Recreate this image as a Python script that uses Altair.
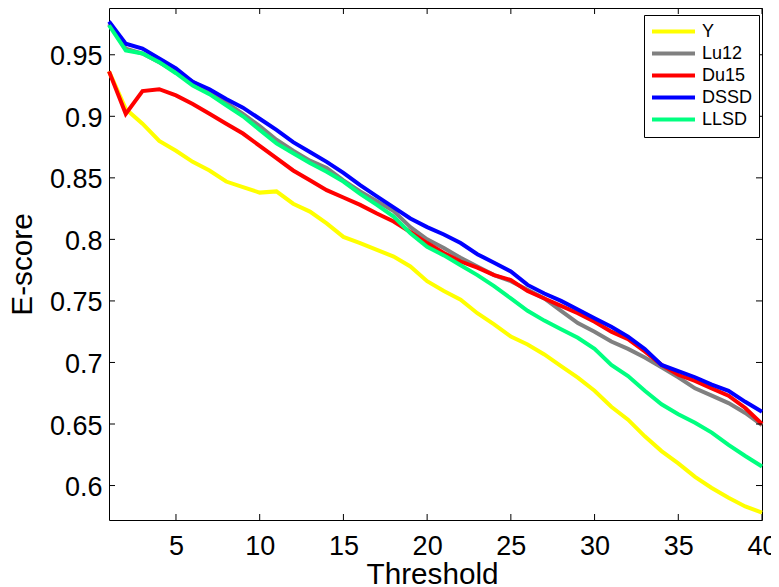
import altair as alt
import pandas as pd

threshold = list(range(1, 41))
series_names = ["Y", "Lu12", "Du15", "DSSD", "LLSD"]
series_colors = ["#FFFF00", "#808080", "#FF0000", "#0000FF", "#00FF80"]

y_vals = [0.9365, 0.906, 0.894, 0.880, 0.872, 0.863, 0.856, 0.847, 0.8425, 0.838,
          0.839, 0.829, 0.8226, 0.813, 0.802, 0.797, 0.7915, 0.786, 0.778, 0.766,
          0.758, 0.751, 0.740, 0.731, 0.721, 0.7146, 0.7065, 0.697, 0.6876, 0.677,
          0.664, 0.6535, 0.640, 0.628, 0.618, 0.607, 0.598, 0.590, 0.583, 0.578]
lu12_vals = [0.975, 0.955, 0.951, 0.944, 0.936, 0.928, 0.920, 0.911, 0.902, 0.892,
             0.881, 0.872, 0.864, 0.858, 0.848, 0.839, 0.831, 0.823, 0.810, 0.800,
             0.793, 0.785, 0.778, 0.771, 0.766, 0.759, 0.752, 0.742, 0.732, 0.725,
             0.717, 0.711, 0.704, 0.696, 0.688, 0.679, 0.673, 0.667, 0.659, 0.649]
du15_vals = [0.9365, 0.902, 0.9205, 0.922, 0.917, 0.910, 0.902, 0.894, 0.886, 0.876,
             0.866, 0.856, 0.848, 0.840, 0.834, 0.828, 0.821, 0.8145, 0.806, 0.797,
             0.789, 0.782, 0.777, 0.771, 0.767, 0.758, 0.752, 0.746, 0.740, 0.733,
             0.725, 0.719, 0.709, 0.698, 0.690, 0.685, 0.679, 0.673, 0.663, 0.650]
dssd_vals = [0.977, 0.959, 0.955, 0.947, 0.939, 0.928, 0.922, 0.914, 0.907, 0.898,
             0.889, 0.879, 0.871, 0.863, 0.854, 0.844, 0.835, 0.826, 0.817, 0.810,
             0.804, 0.797, 0.788, 0.781, 0.774, 0.763, 0.756, 0.750, 0.743, 0.736,
             0.729, 0.721, 0.711, 0.698, 0.693, 0.688, 0.682, 0.677, 0.668, 0.660]
llsd_vals = [0.974, 0.9535, 0.951, 0.944, 0.935, 0.925, 0.918, 0.909, 0.900, 0.889,
             0.878, 0.870, 0.862, 0.855, 0.847, 0.837, 0.828, 0.8185, 0.805, 0.794,
             0.787, 0.779, 0.771, 0.762, 0.752, 0.742, 0.734, 0.727, 0.720, 0.711,
             0.698, 0.689, 0.677, 0.666, 0.658, 0.651, 0.643, 0.633, 0.624, 0.6155]

x_ticks = [5, 10, 15, 20, 25, 30, 35, 40]
y_ticks = [0.6, 0.65, 0.7, 0.75, 0.8, 0.85, 0.9, 0.95]

all_vals = [y_vals, lu12_vals, du15_vals, dssd_vals, llsd_vals]
rows = []
for name, vals in zip(series_names, all_vals):
    for t, v in zip(threshold, vals):
        rows.append({"Threshold": t, "E-score": v, "Series": name})
df = pd.DataFrame(rows)
xt_df = pd.DataFrame({"Threshold": x_ticks})
yt_df = pd.DataFrame({"E-score": y_ticks})

W, H = 653, 512
TL = 6
FONT = "Liberation Sans"

x_scale = alt.Scale(domain=[1, 40], nice=False, zero=False)
y_scale = alt.Scale(domain=[0.572, 0.988], nice=False, zero=False)

x_axis = alt.Axis(
    values=x_ticks, title="Threshold", format="d",
    grid=False, ticks=False, tickSize=0, domain=False,
    labelFont=FONT, labelFontSize=27, labelColor="black", labelPadding=13,
    labelFlush=False, labelOverlap=False,
    titleFont=FONT, titleFontSize=29.7, titleFontWeight="normal", titleColor="black",
    titleBaseline="alphabetic", titleY=63, titleX=323,
)
y_axis = alt.Axis(
    values=y_ticks, title="E-score", format=".2~f",
    grid=False, ticks=False, tickSize=0, domain=False,
    labelFont=FONT, labelFontSize=27, labelColor="black", labelPadding=7,
    labelOffset=2, labelFlush=False, labelOverlap=False,
    titleFont=FONT, titleFontSize=29.7, titleFontWeight="normal", titleColor="black",
    titleBaseline="alphabetic", titleX=-78,
)

legend = alt.Legend(
    title=None, orient="none", legendX=535, legendY=7,
    symbolType="stroke", symbolStrokeWidth=4, symbolSize=1849,
    clipHeight=21.2, rowPadding=0, labelOffset=5,
    labelFont=FONT, labelFontSize=18, labelColor="black",
    padding=6, strokeColor="black", fillColor="white",
)

lines = alt.Chart(df).mark_line(strokeWidth=4).encode(
    x=alt.X("Threshold:Q", scale=x_scale, axis=x_axis),
    y=alt.Y("E-score:Q", scale=y_scale, axis=y_axis),
    color=alt.Color("Series:N", scale=alt.Scale(domain=series_names, range=series_colors),
                    sort=series_names, legend=legend),
)

tick_style = dict(color="black", strokeWidth=1)
x_ticks_bottom = alt.Chart(xt_df).mark_rule(**tick_style).encode(
    x=alt.X("Threshold:Q", scale=x_scale),
    y=alt.value(H), y2=alt.value(H - TL),
)
x_ticks_top = alt.Chart(xt_df).mark_rule(**tick_style).encode(
    x=alt.X("Threshold:Q", scale=x_scale),
    y=alt.value(0), y2=alt.value(TL),
)
y_ticks_left = alt.Chart(yt_df).mark_rule(**tick_style).encode(
    y=alt.Y("E-score:Q", scale=y_scale),
    x=alt.value(0), x2=alt.value(TL),
)
y_ticks_right = alt.Chart(yt_df).mark_rule(**tick_style).encode(
    y=alt.Y("E-score:Q", scale=y_scale),
    x=alt.value(W - TL), x2=alt.value(W),
)

chart = alt.layer(
    lines, x_ticks_bottom, x_ticks_top, y_ticks_left, y_ticks_right
).properties(
    width=W, height=H,
    autosize=alt.AutoSizeParams(type="none"),
    padding={"left": 101, "top": 0, "right": 9, "bottom": 64},
    background="white",
).configure_view(stroke="black", strokeWidth=1)

chart.save("out.html", embed_options={"renderer": "svg", "actions": False})
